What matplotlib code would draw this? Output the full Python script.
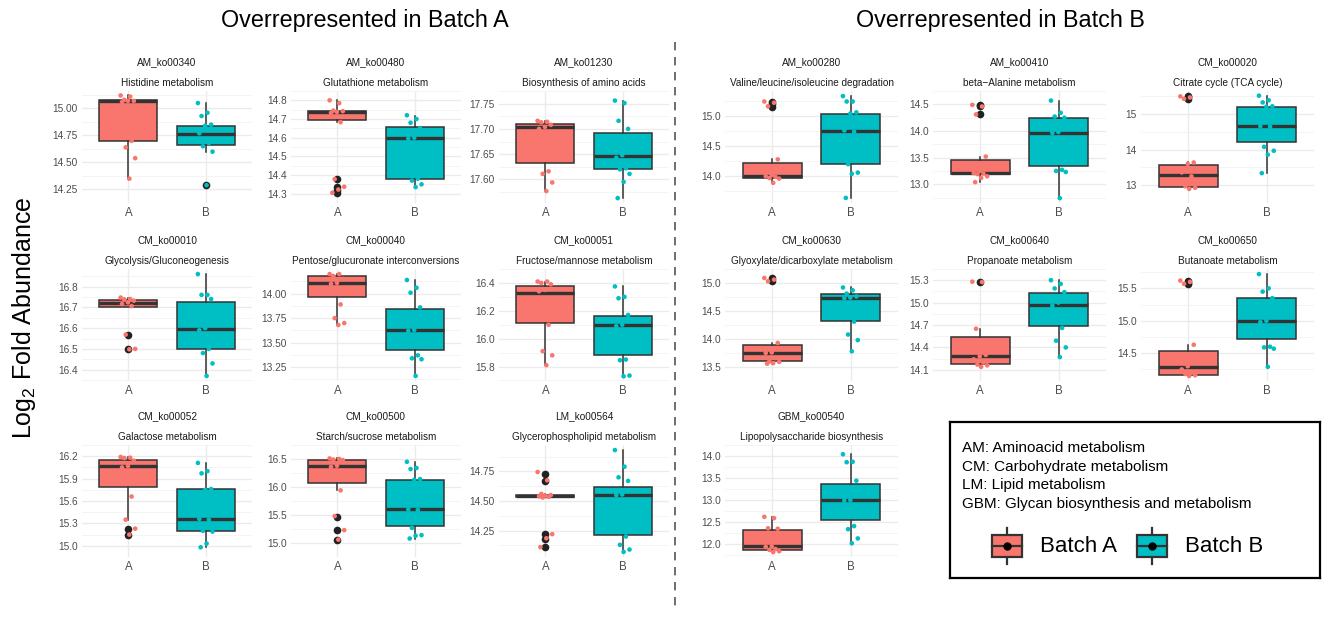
import numpy as np
import matplotlib.pyplot as plt
from matplotlib.lines import Line2D
from matplotlib.patches import Rectangle

plt.rcParams['font.family'] = ['Liberation Sans', 'DejaVu Sans']
plt.rcParams['mathtext.fontset'] = 'custom'
plt.rcParams['mathtext.rm'] = 'Liberation Sans'

# panel ids / pathway names (left block 3x3, right block 3+3+1)
panel_ids = ['AM_ko00340', 'AM_ko00480', 'AM_ko01230',
             'CM_ko00010', 'CM_ko00040', 'CM_ko00051',
             'CM_ko00052', 'CM_ko00500', 'LM_ko00564',
             'AM_ko00280', 'AM_ko00410', 'CM_ko00020',
             'CM_ko00630', 'CM_ko00640', 'CM_ko00650',
             'GBM_ko00540']
panel_names = ['Histidine metabolism', 'Glutathione metabolism', 'Biosynthesis of amino acids',
               'Glycolysis/Gluconeogenesis', 'Pentose/glucuronate interconversions',
               'Fructose/mannose metabolism',
               'Galactose metabolism', 'Starch/sucrose metabolism', 'Glycerophospholipid metabolism',
               'Valine/leucine/isoleucine degradation', 'beta\u2212Alanine metabolism',
               'Citrate cycle (TCA cycle)',
               'Glyoxylate/dicarboxylate metabolism', 'Propanoate metabolism', 'Butanoate metabolism',
               'Lipopolysaccharide biosynthesis']

ytick_labels = [
    ['14.25', '14.50', '14.75', '15.00'],
    ['14.3', '14.4', '14.5', '14.6', '14.7', '14.8'],
    ['17.60', '17.65', '17.70', '17.75'],
    ['16.4', '16.5', '16.6', '16.7', '16.8'],
    ['13.25', '13.50', '13.75', '14.00'],
    ['15.8', '16.0', '16.2', '16.4'],
    ['15.0', '15.3', '15.6', '15.9', '16.2'],
    ['15.0', '15.5', '16.0', '16.5'],
    ['14.25', '14.50', '14.75'],
    ['14.0', '14.5', '15.0'],
    ['13.0', '13.5', '14.0', '14.5'],
    ['13', '14', '15'],
    ['13.5', '14.0', '14.5', '15.0'],
    ['14.1', '14.4', '14.7', '15.0', '15.3'],
    ['14.5', '15.0', '15.5'],
    ['12.0', '12.5', '13.0', '13.5', '14.0'],
]

# jittered samples, batch A
a_values = [
    [15.12, 15.11, 15.08, 15.07, 15.07, 15.06, 14.70, 14.64, 14.54, 14.35],
    [14.80, 14.785, 14.745, 14.742, 14.738, 14.733, 14.683, 14.378, 14.337, 14.322, 14.305],
    [17.716, 17.714, 17.713, 17.708, 17.704, 17.70, 17.616, 17.611, 17.594, 17.577],
    [16.747, 16.74, 16.738, 16.732, 16.724, 16.716, 16.706, 16.569, 16.50, 16.498],
    [14.20, 14.20, 14.18, 14.15, 14.11, 14.10, 13.89, 13.75, 13.70, 13.68],
    [16.41, 16.41, 16.40, 16.39, 16.35, 16.34, 16.10, 15.91, 15.88, 15.81],
    [16.19, 16.18, 16.175, 16.14, 16.07, 16.05, 15.66, 15.35, 15.23, 15.15],
    [16.51, 16.50, 16.49, 16.48, 16.38, 16.36, 15.94, 15.48, 15.23, 15.06],
    [14.745, 14.675, 14.56, 14.55, 14.545, 14.54, 14.535, 14.53, 14.22, 14.185, 14.11],
    [15.24, 15.22, 15.16, 14.28, 14.02, 14.00, 13.99, 13.97, 13.96, 13.89],
    [14.49, 14.46, 14.31, 13.52, 13.25, 13.21, 13.20, 13.19, 13.15, 13.12, 13.04],
    [15.50, 15.47, 15.43, 13.64, 13.60, 13.36, 13.25, 12.97, 12.93, 12.90],
    [15.09, 15.06, 15.03, 13.93, 13.76, 13.75, 13.66, 13.60, 13.59, 13.57, 13.56],
    [15.28, 15.275, 14.65, 14.30, 14.28, 14.24, 14.20, 14.17, 14.16, 14.14],
    [15.62, 15.60, 15.57, 14.63, 14.30, 14.25, 14.20, 14.18, 14.16, 14.15],
    [12.62, 12.59, 12.36, 12.35, 11.95, 11.94, 11.89, 11.87, 11.84, 11.82],
]
# jittered samples, batch B
b_values = [
    [15.05, 14.96, 14.93, 14.85, 14.84, 14.77, 14.68, 14.65, 14.60, 14.29],
    [14.72, 14.70, 14.68, 14.65, 14.60, 14.595, 14.38, 14.37, 14.35, 14.335],
    [17.756, 17.751, 17.716, 17.70, 17.648, 17.643, 17.622, 17.620, 17.611, 17.595, 17.563],
    [16.86, 16.76, 16.76, 16.74, 16.60, 16.59, 16.50, 16.48, 16.43, 16.37],
    [14.14, 14.06, 14.01, 13.86, 13.63, 13.62, 13.37, 13.34, 13.33, 13.16],
    [16.375, 16.30, 16.29, 16.17, 16.10, 16.09, 15.85, 15.845, 15.735, 15.73],
    [16.11, 16.00, 15.97, 15.76, 15.75, 15.36, 15.35, 15.20, 15.19, 15.03, 14.98],
    [16.45, 16.34, 16.32, 16.14, 16.13, 15.60, 15.59, 15.27, 15.14, 15.13, 15.08],
    [14.93, 14.79, 14.70, 14.67, 14.555, 14.55, 14.20, 14.13, 14.09, 14.07],
    [15.33, 15.24, 15.24, 15.06, 15.04, 14.76, 14.74, 14.20, 14.06, 14.04, 13.64],
    [14.57, 14.34, 14.27, 14.25, 13.98, 13.96, 13.27, 13.25, 13.23, 12.74],
    [15.52, 15.39, 15.33, 15.22, 15.21, 14.66, 14.65, 14.08, 13.97, 13.86, 13.34],
    [14.92, 14.87, 14.81, 14.76, 14.74, 14.73, 14.31, 14.08, 13.98, 13.78],
    [15.30, 15.25, 15.19, 15.14, 15.00, 14.96, 14.66, 14.49, 14.40, 14.27],
    [15.72, 15.50, 15.45, 15.35, 15.00, 14.98, 14.60, 14.59, 14.57, 14.29],
    [14.04, 13.87, 13.86, 13.44, 13.00, 12.99, 12.41, 12.34, 12.13, 12.02],
]

# box summaries (whisker low, q1, median, q3, whisker high)
a_box = [
    (14.345, 14.70, 15.065, 15.078, 15.12),
    (14.683, 14.695, 14.735, 14.743, 14.80),
    (17.577, 17.632, 17.703, 17.709, 17.716),
    (16.703, 16.703, 16.72, 16.733, 16.747),
    (13.68, 13.97, 14.11, 14.18, 14.20),
    (15.81, 16.115, 16.33, 16.38, 16.41),
    (15.35, 15.785, 16.07, 16.15, 16.19),
    (15.94, 16.08, 16.38, 16.475, 16.51),
    (14.53, 14.535, 14.54, 14.548, 14.56),
    (13.89, 13.97, 14.01, 14.225, 14.28),
    (13.04, 13.195, 13.21, 13.45, 13.52),
    (12.90, 12.95, 13.29, 13.58, 13.64),
    (13.56, 13.61, 13.755, 13.895, 13.93),
    (14.14, 14.175, 14.29, 14.535, 14.65),
    (14.15, 14.17, 14.29, 14.53, 14.63),
    (11.82, 11.875, 11.95, 12.315, 12.62),
]
b_box = [
    (14.60, 14.665, 14.765, 14.84, 15.05),
    (14.335, 14.38, 14.60, 14.655, 14.715),
    (17.563, 17.62, 17.6465, 17.691, 17.756),
    (16.37, 16.50, 16.595, 16.727, 16.86),
    (13.16, 13.42, 13.625, 13.845, 14.14),
    (15.73, 15.88, 16.095, 16.16, 16.375),
    (14.98, 15.20, 15.365, 15.755, 16.11),
    (15.08, 15.31, 15.60, 16.13, 16.45),
    (14.07, 14.21, 14.55, 14.62, 14.93),
    (13.64, 14.20, 14.75, 15.04, 15.33),
    (12.74, 13.34, 13.97, 14.24, 14.57),
    (13.34, 14.22, 14.655, 15.20, 15.52),
    (13.78, 14.33, 14.74, 14.80, 14.92),
    (14.27, 14.68, 14.965, 15.13, 15.30),
    (14.29, 14.72, 14.99, 15.35, 15.72),
    (12.02, 12.55, 13.00, 13.36, 14.04),
]
a_out = [[], [14.378, 14.337, 14.322, 14.305], [], [16.569, 16.50], [], [],
         [15.23, 15.15], [15.47, 15.23, 15.06], [14.73, 14.67, 14.22, 14.18, 14.11],
         [15.24, 15.20, 15.15], [14.49, 14.46, 14.31], [15.50, 15.47, 15.43],
         [15.09, 15.03], [15.28], [15.62, 15.59, 15.56], []]
b_out = [[14.29], [], [], [], [], [], [], [], [], [], [], [], [], [], [], []]

batch_colors = ['#F8766D', '#00BFC4']
batch_labels = ['Batch A', 'Batch B']
groups = ['A', 'B']
legend_lines = ['AM: Aminoacid metabolism', 'CM: Carbohydrate metabolism',
                'LM: Lipid metabolism', 'GBM: Glycan biosynthesis and metabolism']

W, H = 1322, 618
fig = plt.figure(figsize=(W / 100, H / 100), dpi=100)

left_cols = [82, 291, 499]
right_cols = [725, 933, 1141]
row_tops = [91, 269, 445]
pw_left, pw_right, ph = 170, 173, 112

slots = []
for r in range(3):
    for c in range(3):
        slots.append((left_cols[c], row_tops[r], pw_left))
for r in range(3):
    for c in range(3):
        if r == 2 and c > 0:
            continue
        slots.append((right_cols[c], row_tops[r], pw_right))

edge = '#333333'


def jitter(n):
    return ((np.arange(n) * 0.618) % 1 - 0.5) * 0.2


for i, (x0, top, pw) in enumerate(slots):
    ax = fig.add_axes([x0 / W, 1 - (top + ph) / H, pw / W, ph / H])
    stats = []
    for box, out in ((a_box[i], a_out[i]), (b_box[i], b_out[i])):
        lo, q1, med, q3, hi = box
        stats.append(dict(whislo=lo, q1=q1, med=med, q3=q3, whishi=hi, fliers=out))
    bp = ax.bxp(stats, positions=[1, 2], widths=0.75, patch_artist=True, showcaps=False,
                boxprops=dict(edgecolor=edge, linewidth=1.1),
                medianprops=dict(color=edge, linewidth=2.4, solid_capstyle='butt'),
                whiskerprops=dict(color=edge, linewidth=1.1),
                flierprops=dict(marker='o', markerfacecolor='#222222',
                                markeredgecolor='none', markersize=5.5),
                zorder=2)
    for patch, col in zip(bp['boxes'], batch_colors):
        patch.set_facecolor(col)
    for k, vals in enumerate((a_values[i], b_values[i])):
        vals = np.asarray(vals)
        ax.scatter(k + 1 + jitter(len(vals)), vals, s=11, color=batch_colors[k],
                   edgecolors='none', zorder=4)

    ticks = [float(t) for t in ytick_labels[i]]
    step = ticks[1] - ticks[0]
    minor = [ticks[0] - step / 2] + [t + step / 2 for t in ticks]
    ax.set_xlim(0.4, 2.6)
    allv = list(a_values[i]) + list(b_values[i]) + list(a_box[i]) + list(b_box[i])
    lo_v, hi_v = min(allv), max(allv)
    pad = (hi_v - lo_v) * 0.05
    ax.set_ylim(lo_v - pad, hi_v + pad)
    ax.set_yticks(ticks)
    ax.set_yticklabels(ytick_labels[i])
    ax.set_yticks(minor, minor=True)
    ax.set_xticks([1, 2])
    ax.set_xticklabels(groups)
    ax.grid(True, which='major', color='#EBEBEB', linewidth=1.0, zorder=0)
    ax.grid(True, which='minor', axis='y', color='#F2F2F2', linewidth=0.6, zorder=0)
    ax.set_axisbelow(True)
    for s in ax.spines.values():
        s.set_visible(False)
    ax.tick_params(axis='both', which='both', length=0)
    ax.tick_params(axis='y', labelsize=7.3, labelcolor='#4D4D4D', pad=3)
    ax.tick_params(axis='x', labelsize=8.3, labelcolor='#4D4D4D', pad=3)
    cx = (x0 + pw / 2) / W
    fig.text(cx, 1 - (top - 29) / H, panel_ids[i], ha='center', va='center',
             fontsize=7.2, color='#1A1A1A')
    fig.text(cx, 1 - (top - 8) / H, panel_names[i], ha='center', va='center',
             fontsize=7.2, color='#1A1A1A')

fig.text(365 / W, 1 - 20 / H, 'Overrepresented in Batch A', ha='center', va='center',
         fontsize=16.8)
fig.text(1000 / W, 1 - 20 / H, 'Overrepresented in Batch B', ha='center', va='center',
         fontsize=16.8)
fig.text(24 / W, 1 - 318 / H, r'Log$_\mathregular{2}$ Fold Abundance', rotation=90,
         ha='center', va='center', fontsize=18)

fig.add_artist(Line2D([675 / W, 675 / W], [1 - 42 / H, 1 - 612 / H], transform=fig.transFigure,
                      color='#555555', linewidth=1.2, linestyle=(0, (5, 4))))

# legend box
lax = fig.add_axes([950 / W, 1 - 578 / H, 370 / W, 156 / H])
lax.set_xlim(0, 370)
lax.set_ylim(156, 0)
lax.set_xticks([])
lax.set_yticks([])
for s in lax.spines.values():
    s.set_linewidth(1.6)
    s.set_color('black')
for j, line in enumerate(legend_lines):
    lax.text(12, 26 + j * 18.7, line, ha='left', va='center', fontsize=11)
for k, (col, lab) in enumerate(zip(batch_colors, batch_labels)):
    kx = 42 + k * 145
    lax.plot([kx + 15, kx + 15], [106, 142], color=edge, linewidth=1.6, zorder=1)
    lax.add_patch(Rectangle((kx, 113), 30, 22, facecolor=col, edgecolor=edge,
                            linewidth=1.6, zorder=2))
    lax.plot([kx, kx + 30], [124, 124], color=edge, linewidth=1.6, zorder=3)
    lax.plot([kx + 15], [124], marker='o', color='black', markersize=5, zorder=4)
    lax.text(kx + 48, 124, lab, ha='left', va='center', fontsize=16)

fig.savefig('out.png', dpi=100)
